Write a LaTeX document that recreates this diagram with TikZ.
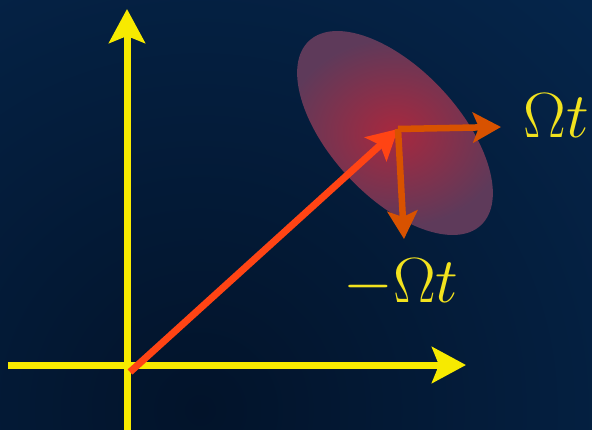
\documentclass[tikz,border=0pt]{standalone}
\usepackage{amsmath}
\usepackage{tikz}
\usetikzlibrary{arrows.meta}
\definecolor{bgin}{HTML}{02132A}
\definecolor{bgout}{HTML}{09386C}
\definecolor{axisyellow}{HTML}{F7EA00}
\definecolor{labelyellow}{HTML}{F2E21E}
\definecolor{vecred}{HTML}{FF4414}
\definecolor{rotorange}{HTML}{D85200}
\definecolor{blobin}{HTML}{A8283E}
\definecolor{blobout}{HTML}{5E3A5A}

\begin{document}
\begin{tikzpicture}[x=1pt,y=-1pt,
    axis/.style={axisyellow, line width=7pt, -{Stealth[length=34pt,width=36pt,inset=7pt]}},
    vec/.style={vecred, line width=7pt, -{Stealth[length=30pt,width=32pt,inset=6pt]}},
    rot/.style={rotorange, line width=6.5pt, -{Stealth[length=28pt,width=30pt,inset=6pt]}},
    lbl/.style={labelyellow, font=\LARGE, scale=3.7, inner sep=0pt, anchor=base}]
				\useasboundingbox (0,0) rectangle (592,429);
				\clip (0,0) rectangle (592,429);
				\shade[inner color=bgin, outer color=bgout] (200,410) circle (1150);
				% squeezed state
				\shade[inner color=blobin, outer color=blobout, rotate around={-47:(395,133)}]
					(395,133) ellipse (126 and 64);
				\coordinate (origin) at (127,365);
				\coordinate (xend) at (466,365);
				\coordinate (xstart) at (8,365);
				\coordinate (ystart) at (127,432);
				\coordinate (yend) at (127,9);
				\coordinate (vstart) at (130,372);
				\coordinate (center) at (398,129);
				\coordinate (rtip) at (501,127);
				\coordinate (dtip) at (404,239);
				\draw[axis] (xstart) -- (xend);
				\draw[axis] (ystart) -- (yend);
				\draw[vec] (vstart) -- (center);
				\draw[rot] (center) -- (rtip);
				\draw[rot] (center) -- (dtip);
				\node[lbl] (plus) at (556,137) {$\Omega t$};
				\node[lbl] (minus) at (401,302) {$-\Omega t$};
			\end{tikzpicture}
\end{document}
